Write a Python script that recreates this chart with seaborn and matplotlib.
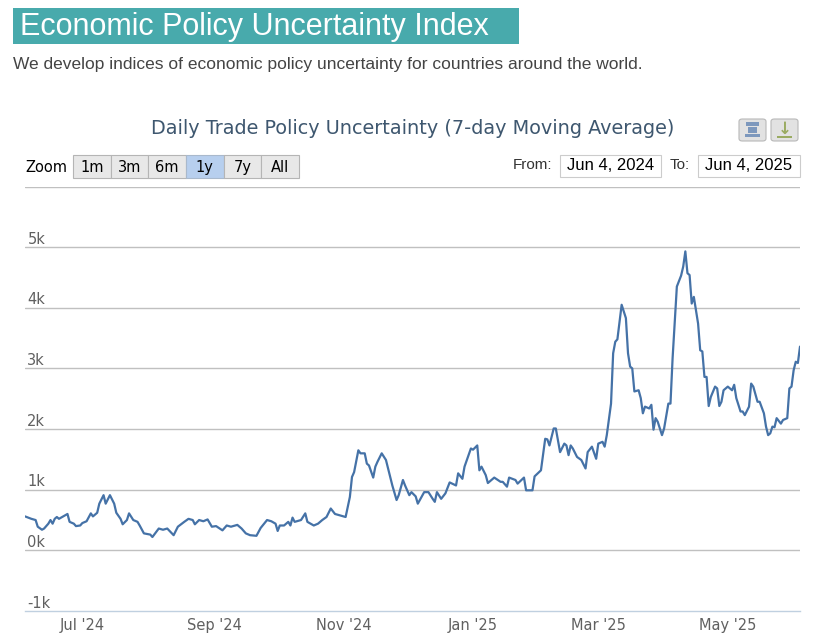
import pandas as pd
import matplotlib
matplotlib.use("Agg")
import matplotlib.pyplot as plt
from matplotlib.patches import Rectangle, FancyBboxPatch
import seaborn as sns

# days after Jun 4, 2024 and 7-day average index values
days = [0, 3, 5, 6, 8, 9, 11, 12, 13, 14,
        15, 16, 18, 20, 21, 23, 24, 26, 27, 29,
        31, 32, 34, 35, 37, 38, 40, 42, 43, 45,
        46, 48, 49, 51, 53, 54, 56, 59, 60, 63,
        65, 67, 70, 72, 75, 77, 79, 80, 82, 84,
        86, 88, 90, 93, 95, 97, 100, 102, 104, 106,
        109, 111, 114, 116, 118, 119, 120, 122, 124, 125,
        126, 127, 130, 132, 133, 136, 138, 140, 142, 144,
        146, 148, 151, 153, 154, 155, 157, 158, 160, 161,
        162, 164, 165, 166, 168, 170, 172, 173, 175, 176,
        178, 179, 181, 182, 184, 185, 188, 190, 192, 193,
        194, 196, 198, 200, 203, 204, 206, 207, 210, 211,
        213, 214, 215, 217, 218, 221, 224, 225, 227, 228,
        231, 232, 235, 236, 239, 240, 243, 245, 246, 247,
        249, 250, 252, 254, 255, 256, 257, 258, 260, 262,
        264, 265, 267, 269, 270, 272, 273, 274, 276, 277,
        278, 279, 281, 283, 284, 285, 286, 287, 289, 290,
        291, 292, 294, 295, 296, 297, 298, 300, 301, 303,
        304, 305, 307, 309, 310, 311, 312, 313, 314, 315,
        317, 318, 319, 320, 321, 322, 323, 325, 326, 327,
        328, 329, 331, 333, 334, 335, 337, 338, 339, 341,
        342, 343, 345, 346, 348, 349, 350, 351, 352, 353,
        354, 356, 357, 359, 360, 361, 362, 363, 364, 365]
values = [560, 520, 500, 390, 340, 360, 440, 500, 440, 520,
          550, 520, 560, 600, 470, 440, 400, 410, 450, 480,
          610, 560, 620, 770, 910, 770, 910, 770, 620, 520,
          430, 500, 610, 500, 470, 410, 280, 260, 220, 360,
          340, 360, 250, 390, 470, 520, 500, 430, 500, 480,
          510, 390, 400, 330, 410, 390, 420, 360, 280, 250,
          240, 370, 500, 480, 440, 320, 410, 410, 470, 410,
          540, 470, 500, 610, 470, 410, 440, 500, 550, 690,
          600, 580, 550, 880, 1210, 1290, 1650, 1600, 1600, 1430,
          1400, 1200, 1380, 1460, 1600, 1490, 1210, 1070, 830, 910,
          1160, 1070, 910, 960, 890, 770, 960, 960, 850, 800,
          960, 850, 940, 1120, 1070, 1270, 1180, 1380, 1680, 1660,
          1730, 1320, 1380, 1240, 1110, 1200, 1130, 1130, 1050, 1200,
          1160, 1100, 1200, 990, 990, 1220, 1320, 1840, 1830, 1730,
          2010, 2010, 1620, 1760, 1730, 1570, 1730, 1680, 1540, 1490,
          1350, 1620, 1710, 1510, 1760, 1790, 1710, 1900, 2420, 3250,
          3440, 3480, 4050, 3830, 3250, 3030, 3000, 2620, 2640, 2510,
          2260, 2370, 2340, 2400, 1990, 2180, 2120, 1900, 2010, 2420,
          2420, 3170, 4350, 4530, 4680, 4930, 4570, 4540, 4070, 4180,
          3740, 3300, 3280, 2860, 2860, 2380, 2530, 2700, 2670, 2380,
          2450, 2640, 2700, 2640, 2730, 2510, 2290, 2290, 2230, 2370,
          2750, 2700, 2450, 2450, 2260, 2040, 1900, 1930, 2040, 2030,
          2180, 2090, 2150, 2180, 2670, 2700, 2970, 3110, 3090, 3360]

start_date = "2024-06-04"
end_date = "2025-06-04"
y_ticks = [-1000, 0, 1000, 2000, 3000, 4000, 5000]
y_labels = ["-1k", "0k", "1k", "2k", "3k", "4k", "5k"]
x_ticks = ["2024-07-01", "2024-09-01", "2024-11-01", "2025-01-01", "2025-03-01", "2025-05-01"]
x_labels = ["Jul '24", "Sep '24", "Nov '24", "Jan '25", "Mar '25", "May '25"]
zoom_buttons = ["1m", "3m", "6m", "1y", "7y", "All"]

df = pd.DataFrame({"date": pd.Timestamp(start_date) + pd.to_timedelta(days, unit="D"),
                   "value": values})

sns.set_style("white")
plt.rcParams["font.family"] = ["DejaVu Sans"]

W, H = 822, 635
fig = plt.figure(figsize=(W / 100, H / 100), dpi=100)


def fx(x):
    return x / W


def fy(y):
    return 1 - y / H


# page header
fig.patches.append(Rectangle((fx(13), fy(44)), fx(506), 36 / H, transform=fig.transFigure,
                             facecolor="#48aaac", edgecolor="none"))
fig.text(fx(20), fy(27), "Economic Policy Uncertainty Index", color="white", fontsize=22,
         family="Liberation Sans", va="center", ha="left")
fig.text(fx(13), fy(64), "We develop indices of economic policy uncertainty for countries around the world.",
         color="#444444", fontsize=12.5, family="Liberation Sans", va="center", ha="left")

# chart title
fig.text(fx(413), fy(129), "Daily Trade Policy Uncertainty (7-day Moving Average)",
         color="#3e576f", fontsize=13.9, va="center", ha="center")

# export icons
for x0 in [739, 771]:
    fig.patches.append(FancyBboxPatch((fx(x0), fy(141)), 27 / W, 22 / H, transform=fig.transFigure,
                                      boxstyle="round,pad=0,rounding_size=0.004",
                                      facecolor="#e2e2e2", edgecolor="#b8b8b8", lw=0.8))
fig.patches.append(Rectangle((fx(746), fy(126)), 13 / W, 4 / H, transform=fig.transFigure,
                             facecolor="#7d98bd", edgecolor="none"))
fig.patches.append(Rectangle((fx(748), fy(133)), 9 / W, 6 / H, transform=fig.transFigure,
                             facecolor="#7d98bd", edgecolor="none"))
fig.patches.append(Rectangle((fx(745), fy(137)), 15 / W, 3 / H, transform=fig.transFigure,
                             facecolor="#7d98bd", edgecolor="none"))
fig.text(fx(784.5), fy(129), "\u2193", color="#9aab62", fontsize=12, fontweight="bold",
         ha="center", va="center")
fig.patches.append(Rectangle((fx(777), fy(138)), 15 / W, 2 / H, transform=fig.transFigure,
                             facecolor="#9aab62", edgecolor="none"))

# range selector
fig.text(fx(25), fy(168), "Zoom", color="black", fontsize=10.5, va="center", ha="left")
edges = [73, 110.5, 148, 185.5, 223.5, 261, 298.5]
for i, lab in enumerate(zoom_buttons):
    active = lab == "1y"
    fig.patches.append(Rectangle((fx(edges[i]), fy(178)), (edges[i + 1] - edges[i]) / W, 23 / H,
                                 transform=fig.transFigure,
                                 facecolor="#b7cfee" if active else "#e8e8e8",
                                 edgecolor="#a9b9cc" if active else "#b5b5b5", lw=0.8))
    fig.text(fx((edges[i] + edges[i + 1]) / 2), fy(167), lab, color="black", fontsize=10.5,
             va="center", ha="center")

fig.text(fx(552), fy(165), "From:", color="#333333", fontsize=11, family="Liberation Sans",
         va="center", ha="right")
fig.text(fx(690), fy(165), "To:", color="#333333", fontsize=11, family="Liberation Sans",
         va="center", ha="right")
for x0, x1, lab in [(560, 661, "Jun 4, 2024"), (698, 800, "Jun 4, 2025")]:
    fig.patches.append(Rectangle((fx(x0), fy(177)), (x1 - x0) / W, 22 / H, transform=fig.transFigure,
                                 facecolor="white", edgecolor="#cccccc", lw=0.8))
    fig.text(fx((x0 + x1) / 2), fy(165.5), lab, color="black", fontsize=12, family="Liberation Sans",
             va="center", ha="center")

# main plot
ax = fig.add_axes([fx(25), fy(611), (800 - 25) / W, (611 - 186.5) / H])
sns.lineplot(data=df, x="date", y="value", ax=ax, color="#4572a7", linewidth=1.6)
ax.set_xlim(pd.Timestamp(start_date), pd.Timestamp(end_date))
ax.set_ylim(-1000, 6000)
ax.set_xlabel("")
ax.set_ylabel("")

for v in y_ticks[1:] + [6000]:
    ax.axhline(v, color="#c0c0c0", lw=1, zorder=0)
ax.set_yticks([])
for v, lab in zip(y_ticks, y_labels):
    ax.text(0.003, v + 55, lab, transform=ax.get_yaxis_transform(), color="#606060",
            fontsize=10.5, ha="left", va="baseline")

ax.set_xticks(pd.to_datetime(x_ticks))
ax.set_xticklabels(x_labels)
ax.tick_params(axis="x", direction="out", length=4, width=1, color="#c0d0e0",
               labelcolor="#606060", labelsize=10.5, pad=1)
for side in ["top", "left", "right"]:
    ax.spines[side].set_visible(False)
ax.spines["bottom"].set_color("#c0d0e0")
ax.spines["bottom"].set_linewidth(1)

fig.savefig("out.png", dpi=100)
